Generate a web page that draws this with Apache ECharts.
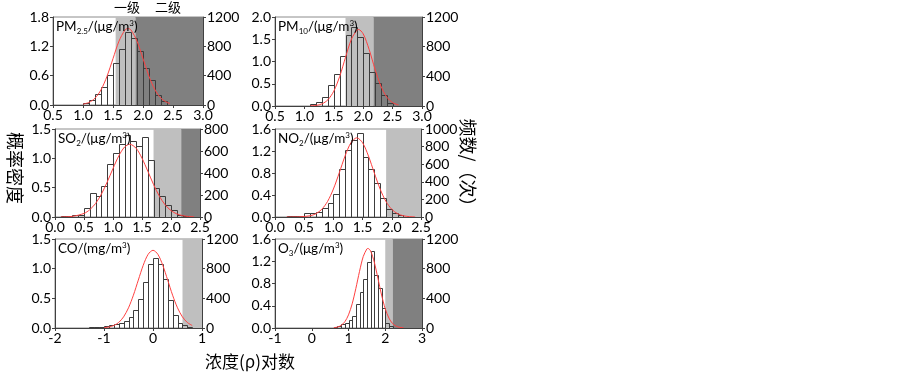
<!DOCTYPE html>
<html>
<head>
<meta charset="utf-8">
<script src="https://cdn.jsdelivr.net/npm/echarts/dist/echarts.min.js"></script>
<style>
html, body { margin: 0; padding: 0; background: #fff; }
#chart { width: 903px; height: 372px; }
</style>
</head>
<body>
<div id="chart"></div>
<script>
// bin width of every histogram (log10 units)
const binWidth = 0.1;

// PM2.5
const pm25BinLeft = [0.8, 0.9, 1.0, 1.1, 1.2, 1.3, 1.4, 1.5, 1.6, 1.7, 1.8, 1.9, 2.0, 2.1, 2.2, 2.3];
const pm25Counts = [3, 5, 30, 70, 150, 240, 415, 570, 770, 1000, 915, 730, 510, 340, 140, 60];
const pm25CurveX = [1.0, 1.1, 1.2, 1.3, 1.4, 1.5, 1.6, 1.7, 1.75, 1.8, 1.9, 2.0, 2.1, 2.2, 2.3, 2.4, 2.45];
const pm25CurveY = [0.017, 0.053, 0.139, 0.310, 0.587, 0.949, 1.307, 1.534, 1.565, 1.534, 1.307, 0.949, 0.587, 0.310, 0.139, 0.053, 0.030];
const pm25Levels = [1.544, 1.875];

// PM10
const pm10BinLeft = [1.0, 1.1, 1.2, 1.3, 1.4, 1.5, 1.6, 1.7, 1.8, 1.9, 2.0, 2.1, 2.2, 2.3, 2.4];
const pm10Counts = [5, 25, 60, 125, 282, 435, 680, 960, 1060, 930, 716, 461, 304, 148, 36];
const pm10CurveX = [1.1, 1.2, 1.3, 1.4, 1.5, 1.6, 1.7, 1.8, 1.9, 1.92, 2.0, 2.1, 2.2, 2.3, 2.4, 2.5, 2.6];
const pm10CurveY = [0.003, 0.014, 0.048, 0.140, 0.334, 0.664, 1.097, 1.504, 1.714, 1.720, 1.621, 1.274, 0.831, 0.450, 0.202, 0.076, 0.023];
const pm10Levels = [1.699, 2.176];

// SO2
const so2BinLeft = [0.0, 0.1, 0.2, 0.3, 0.4, 0.5, 0.6, 0.7, 0.8, 0.9, 1.0, 1.1, 1.2, 1.3, 1.4, 1.5, 1.6, 1.7, 1.8, 1.9, 2.0, 2.1, 2.2];
const so2Counts = [2, 5, 10, 20, 15, 80, 217, 192, 285, 486, 580, 660, 745, 690, 645, 730, 515, 265, 190, 105, 60, 22, 8];
const so2CurveX = [0.1, 0.3, 0.5, 0.6, 0.7, 0.8, 0.9, 1.0, 1.1, 1.2, 1.29, 1.4, 1.5, 1.6, 1.7, 1.8, 1.9, 2.0, 2.1, 2.2, 2.3, 2.4];
const so2CurveY = [0.001, 0.011, 0.061, 0.125, 0.231, 0.390, 0.596, 0.827, 1.042, 1.193, 1.240, 1.170, 1.002, 0.781, 0.552, 0.354, 0.206, 0.109, 0.053, 0.023, 0.009, 0.003];
const so2Levels = [1.699, 2.176];

// NO2
const no2BinLeft = [0.0, 0.1, 0.2, 0.3, 0.4, 0.5, 0.6, 0.7, 0.8, 0.9, 1.0, 1.1, 1.2, 1.3, 1.4, 1.5, 1.6, 1.7, 1.8, 1.9, 2.0, 2.1, 2.2];
const no2Counts = [3, 5, 8, 12, 15, 45, 45, 60, 100, 160, 265, 550, 760, 872, 950, 685, 540, 385, 212, 95, 50, 20, 5];
const no2CurveX = [0.2, 0.4, 0.6, 0.7, 0.8, 0.9, 1.0, 1.1, 1.2, 1.3, 1.4, 1.5, 1.6, 1.7, 1.8, 1.9, 2.0, 2.1, 2.2, 2.3, 2.4];
const no2CurveY = [0.000, 0.002, 0.022, 0.059, 0.139, 0.283, 0.509, 0.802, 1.110, 1.349, 1.440, 1.349, 1.110, 0.802, 0.509, 0.283, 0.139, 0.059, 0.022, 0.007, 0.002];
const no2Levels = [1.903];

// CO
const coBinLeft = [-1.5, -1.4, -1.3, -1.2, -1.1, -1.0, -0.9, -0.8, -0.7, -0.6, -0.5, -0.4, -0.3, -0.2, -0.1, 0.0, 0.1, 0.2, 0.3, 0.4, 0.5, 0.6, 0.7];
const coCounts = [5, 3, 8, 10, 15, 25, 35, 50, 70, 90, 150, 240, 390, 615, 868, 950, 868, 664, 373, 171, 72, 36, 18];
const coCurveX = [-1.0, -0.9, -0.8, -0.7, -0.6, -0.5, -0.4, -0.3, -0.2, -0.1, 0.0, 0.1, 0.2, 0.3, 0.4, 0.5, 0.6, 0.7, 0.8];
const coCurveY = [0.006, 0.017, 0.042, 0.093, 0.188, 0.340, 0.553, 0.807, 1.056, 1.241, 1.310, 1.241, 1.056, 0.807, 0.553, 0.340, 0.188, 0.093, 0.042];
const coLevels = [0.602];

// O3
const o3BinLeft = [0.5, 0.6, 0.7, 0.8, 0.9, 1.0, 1.1, 1.2, 1.3, 1.4, 1.5, 1.6, 1.7, 1.8, 1.9, 2.0, 2.1];
const o3Counts = [3, 8, 30, 58, 72, 104, 160, 330, 490, 660, 890, 1040, 720, 535, 275, 70, 22];
const o3CurveX = [0.6, 0.7, 0.8, 0.9, 1.0, 1.1, 1.2, 1.3, 1.4, 1.5, 1.53, 1.6, 1.7, 1.8, 1.9, 2.0, 2.1, 2.2, 2.3, 2.4, 2.5];
const o3CurveY = [0.006, 0.017, 0.047, 0.112, 0.236, 0.435, 0.711, 1.018, 1.283, 1.422, 1.430, 1.386, 1.188, 0.895, 0.593, 0.346, 0.178, 0.080, 0.032, 0.011, 0.004];
const o3Levels = [2.0, 2.204];

// axis ranges [min, max, interval]
const pm25Axes = { x: [0.5, 3.0, 0.5], left: [0, 1.8, 0.6], right: [0, 1200, 400] };
const pm10Axes = { x: [0.5, 3.0, 0.5], left: [0, 2.0, 0.5], right: [0, 1200, 400] };
const so2Axes = { x: [0, 2.5, 0.5], left: [0, 1.5, 0.5], right: [0, 800, 200] };
const no2Axes = { x: [0, 2.5, 0.5], left: [0, 1.6, 0.4], right: [0, 1000, 200] };
const coAxes = { x: [-2, 1, 1], left: [0, 1.5, 0.5], right: [0, 1200, 400] };
const o3Axes = { x: [-1, 3, 1], left: [0, 1.6, 0.4], right: [0, 1200, 400] };

const panels = [
    { label: '{n|PM}{sub|2.5}{n|/(μg/m}{sup|3}{n|)}', binLeft: pm25BinLeft, counts: pm25Counts, cx: pm25CurveX, cy: pm25CurveY, levels: pm25Levels, axes: pm25Axes, xDec: 1, rect: { left: 53, top: 17, width: 150, height: 88 } },
    { label: '{n|PM}{sub|10}{n|/(μg/m}{sup|3}{n|)}', binLeft: pm10BinLeft, counts: pm10Counts, cx: pm10CurveX, cy: pm10CurveY, levels: pm10Levels, axes: pm10Axes, xDec: 1, rect: { left: 275, top: 17, width: 147, height: 89 } },
    { label: '{n|SO}{sub|2}{n|/(μg/m}{sup|3}{n|)}', binLeft: so2BinLeft, counts: so2Counts, cx: so2CurveX, cy: so2CurveY, levels: so2Levels, axes: so2Axes, xDec: 1, rect: { left: 55, top: 129, width: 145, height: 88 } },
    { label: '{n|NO}{sub|2}{n|/(μg/m}{sup|3}{n|)}', binLeft: no2BinLeft, counts: no2Counts, cx: no2CurveX, cy: no2CurveY, levels: no2Levels, axes: no2Axes, xDec: 1, rect: { left: 275, top: 129, width: 146, height: 88 } },
    { label: '{n|CO/(mg/m}{sup|3}{n|)}', binLeft: coBinLeft, counts: coCounts, cx: coCurveX, cy: coCurveY, levels: coLevels, axes: coAxes, xDec: 0, rect: { left: 55, top: 239, width: 147, height: 89 } },
    { label: '{n|O}{sub|3}{n|/(μg/m}{sup|3}{n|)}', binLeft: o3BinLeft, counts: o3Counts, cx: o3CurveX, cy: o3CurveY, levels: o3Levels, axes: o3Axes, xDec: 0, rect: { left: 275, top: 239, width: 147, height: 89 } }
];

const font = 'Lato, "Liberation Sans", sans-serif';
const cjk = '"Noto Sans CJK SC", sans-serif';
const axisColor = '#404040';
const shadeColors = ['#bfbfbf', '#808080'];

const chart = echarts.init(document.getElementById('chart'));

const grid = [], xAxis = [], yAxis = [], series = [], title = [];

panels.forEach((p, i) => {
    grid.push(Object.assign({ show: true, borderColor: '#8c8c8c', borderWidth: 1, backgroundColor: 'transparent' }, p.rect));

    const tick = { show: true, length: 3, lineStyle: { color: axisColor } };
    const line = { show: true, onZero: false, lineStyle: { color: axisColor, width: 1 } };
    const label = { fontFamily: font, fontSize: 14, fontWeight: 'normal', color: '#000' };
    xAxis.push({
        type: 'value', gridIndex: i, z: 10,
        min: p.axes.x[0], max: p.axes.x[1], interval: p.axes.x[2],
        axisLine: line, axisTick: tick, splitLine: { show: false },
        axisLabel: Object.assign({ margin: 3, showMinLabel: true, showMaxLabel: true,
            formatter: v => v.toFixed(p.xDec) }, label)
    });
    yAxis.push({
        type: 'value', gridIndex: i, position: 'left', z: 10,
        min: p.axes.left[0], max: p.axes.left[1], interval: p.axes.left[2],
        axisLine: line, axisTick: tick, splitLine: { show: false },
        axisLabel: Object.assign({ margin: 4, formatter: v => v.toFixed(1) }, label)
    });
    yAxis.push({
        type: 'value', gridIndex: i, position: 'right', z: 10,
        min: p.axes.right[0], max: p.axes.right[1], interval: p.axes.right[2],
        axisLine: line, axisTick: tick, splitLine: { show: false },
        axisLabel: Object.assign({ margin: 4, formatter: v => String(Math.round(v)) }, label)
    });

    // 一级 / 二级 shading
    const xmax = p.axes.x[1];
    const shades = [[p.levels[0], p.levels.length > 1 ? p.levels[1] : xmax, 0]];
    if (p.levels.length > 1) shades.push([p.levels[1], xmax, 1]);
    series.push({
        type: 'custom', xAxisIndex: i, yAxisIndex: i * 2, z: 1, silent: true,
        encode: { x: [0, 1], y: 2 },
        data: shades,
        renderItem: (params, api) => {
            const a = api.coord([api.value(0), 0]);
            const b = api.coord([api.value(1), 0]);
            const cs = params.coordSys;
            return { type: 'rect', shape: { x: a[0], y: cs.y, width: b[0] - a[0], height: cs.height },
                style: { fill: shadeColors[api.value(2)] } };
        }
    });

    // histogram (frequency, right axis)
    series.push({
        type: 'custom', xAxisIndex: i, yAxisIndex: i * 2 + 1, z: 2, silent: true,
        data: p.binLeft.map((x, k) => [x, p.counts[k]]),
        renderItem: (params, api) => {
            const a = api.coord([api.value(0), 0]);
            const b = api.coord([api.value(0) + binWidth, api.value(1)]);
            const x0 = Math.round(a[0]) + 0.5, x1 = Math.round(b[0]) + 0.5;
            const y0 = Math.round(a[1]) + 0.5, y1 = Math.round(b[1]) + 0.5;
            return { type: 'rect', shape: { x: x0, y: y1, width: x1 - x0, height: y0 - y1 },
                style: { fill: 'none', stroke: '#3c3c3c', lineWidth: 1 } };
        }
    });

    // fitted density (left axis)
    series.push({
        type: 'line', xAxisIndex: i, yAxisIndex: i * 2, z: 3, silent: true,
        showSymbol: false, smooth: 0.3,
        lineStyle: { color: '#ff4040', width: 1 },
        data: p.cx.map((x, k) => [x, p.cy[k]])
    });

    title.push({
        text: p.label, left: p.rect.left + 3, top: p.rect.top + 2, padding: 0,
        textStyle: {
            fontWeight: 'normal',
            rich: {
                n: { fontFamily: font, fontSize: 13.5, fontWeight: 'normal', color: '#000', lineHeight: 16 },
                sub: { fontFamily: font, fontSize: 8, fontWeight: 'normal', color: '#000', lineHeight: 8, verticalAlign: 'bottom' },
                sup: { fontFamily: font, fontSize: 8, fontWeight: 'normal', color: '#000', lineHeight: 8, verticalAlign: 'top' }
            }
        }
    });
});

chart.setOption({
    animation: false,
    backgroundColor: '#fff',
    title,
    grid,
    xAxis,
    yAxis,
    series,
    graphic: [
        { type: 'text', x: 127, y: 7, style: { text: '一级', font: '13px ' + cjk, fill: '#000', textAlign: 'center', textVerticalAlign: 'middle' } },
        { type: 'text', x: 168, y: 7, style: { text: '二级', font: '13px ' + cjk, fill: '#000', textAlign: 'center', textVerticalAlign: 'middle' } },
        { type: 'text', x: 15, y: 168, rotation: -Math.PI / 2, style: { text: '概率密度', font: '18px ' + cjk, fill: '#000', textAlign: 'center', textVerticalAlign: 'middle' } },
        { type: 'text', x: 468, y: 167, rotation: -Math.PI / 2, style: { text: '频数/（次）', font: '18px ' + cjk, fill: '#000', textAlign: 'center', textVerticalAlign: 'middle' } },
        { type: 'text', x: 250, y: 362, style: { text: '浓度(ρ)对数', font: '17px ' + cjk, fill: '#000', textAlign: 'center', textVerticalAlign: 'middle' } }
    ]
});
</script>
</body>
</html>
